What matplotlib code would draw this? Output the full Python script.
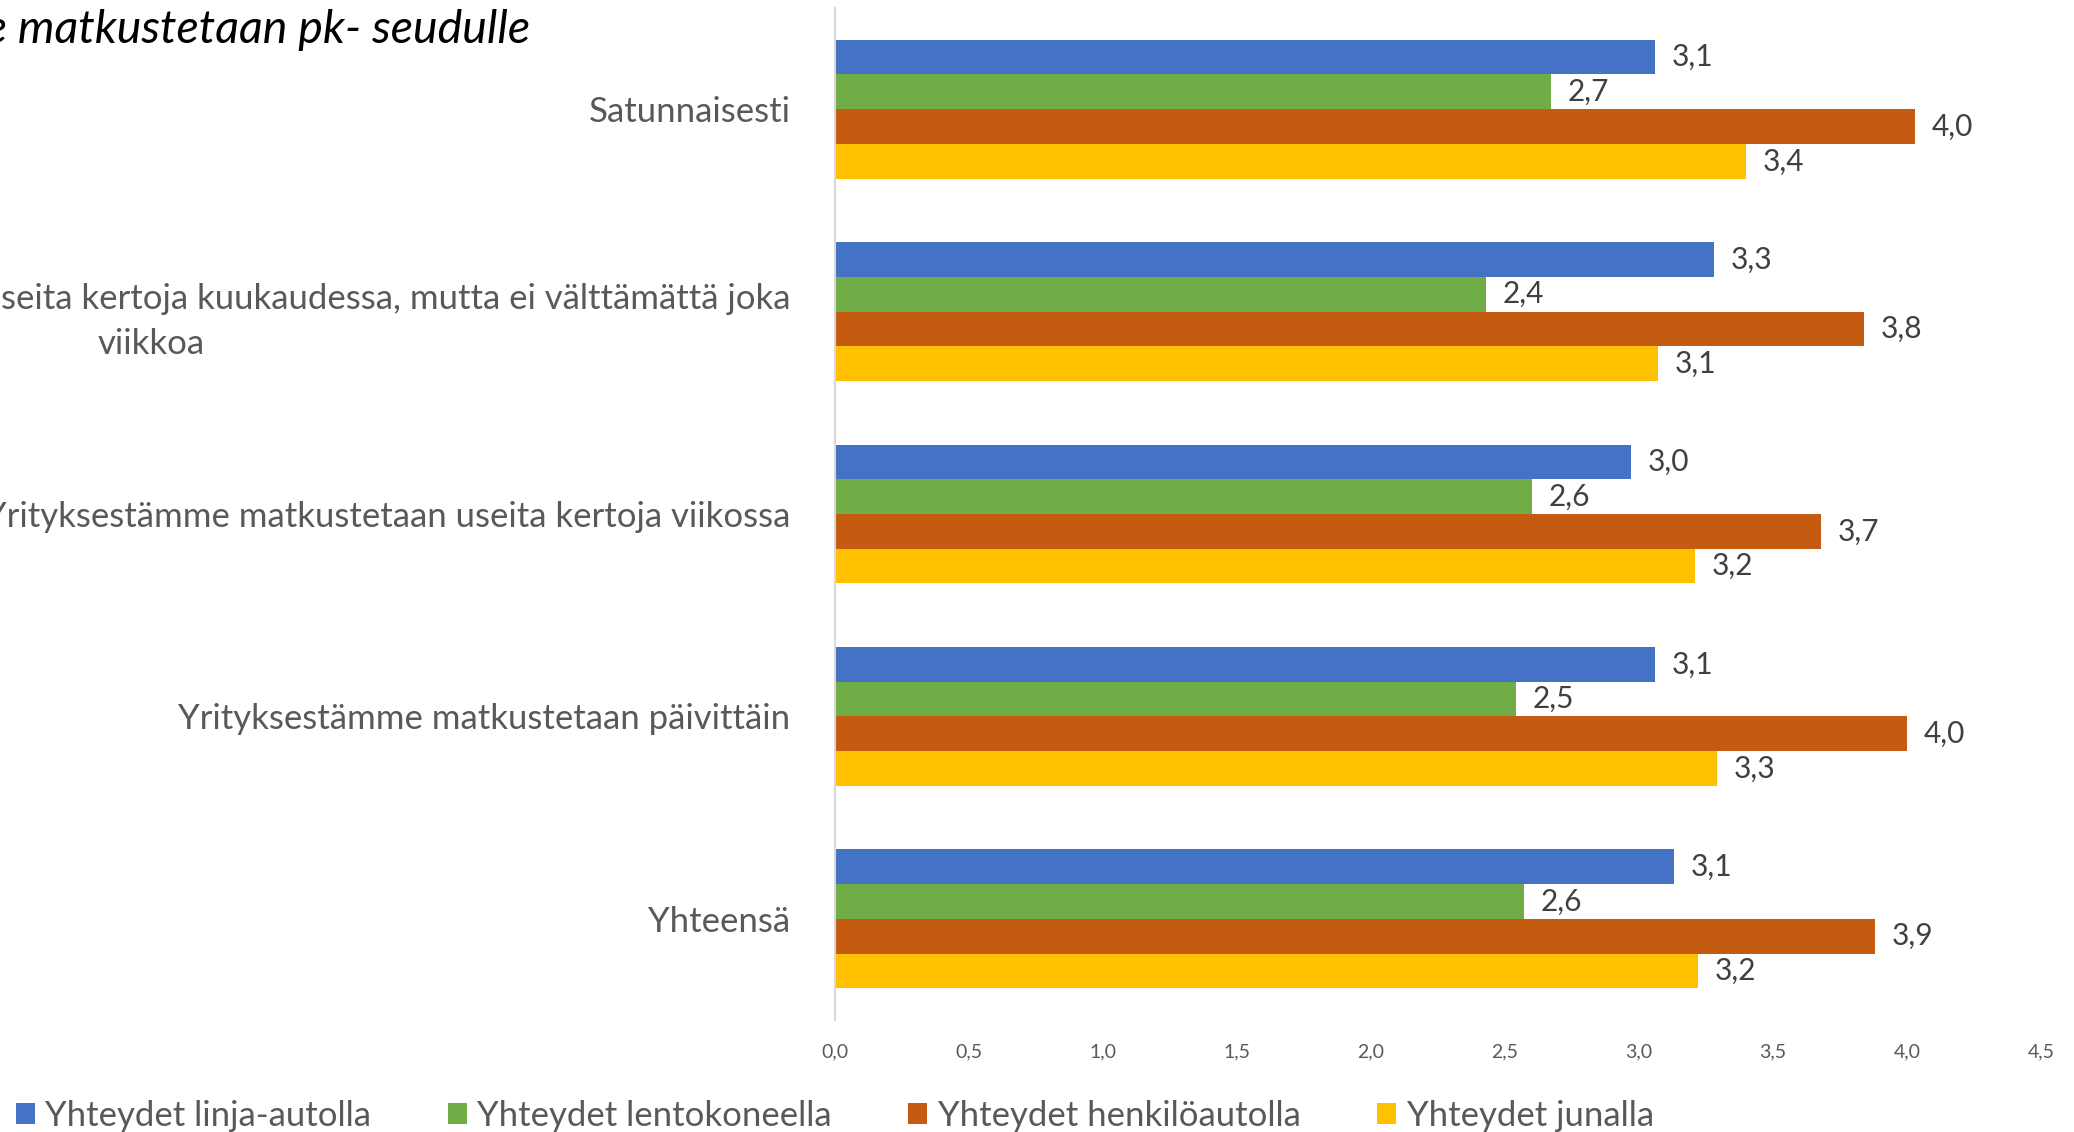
import matplotlib
matplotlib.use("Agg")
import matplotlib.pyplot as plt
from matplotlib import font_manager
import numpy as np

categories = [
    "Satunnaisesti",
    "Yrityksestämme matkustetaan useita kertoja kuukaudessa, mutta ei välttämättä joka\nviikkoa",
    "Yrityksestämme matkustetaan useita kertoja viikossa",
    "Yrityksestämme matkustetaan päivittäin",
    "Yhteensä",
]
series_names = ["Yhteydet linja-autolla", "Yhteydet lentokoneella",
                "Yhteydet henkilöautolla", "Yhteydet junalla"]
linja = [3.06, 3.28, 2.97, 3.06, 3.13]
lento = [2.67, 2.43, 2.60, 2.54, 2.57]
henkilo = [4.03, 3.84, 3.68, 4.00, 3.88]
juna = [3.40, 3.07, 3.21, 3.29, 3.22]
xticks = [0.0, 0.5, 1.0, 1.5, 2.0, 2.5, 3.0, 3.5, 4.0, 4.5]
title = "Kuinka usein yrityksestämme matkustetaan pk- seudulle"

colors = ["#4472C4", "#70AD47", "#C55A11", "#FFC000"]
txt = "#595959"

avail = {f.name for f in font_manager.fontManager.ttflist}
fam = "Liberation Sans Narrow" if "Liberation Sans Narrow" in avail else "Lato"
plt.rcParams["font.family"] = [fam, "DejaVu Sans"]

W, H = 2074, 1132
fig = plt.figure(figsize=(W / 100, H / 100), dpi=100)
ax = fig.add_axes([835 / W, 1 - 1020 / H, (2041 - 835) / W, (1020 - 8) / H])

y = np.arange(len(categories))
h = 0.1716
data = [linja, lento, henkilo, juna]
for i, (vals, c, n) in enumerate(zip(data, colors, series_names)):
    bars = ax.barh(y + (i - 1.5) * h, vals, height=h, color=c, label=n)
    ax.bar_label(bars, labels=[f"{v:.1f}".replace(".", ",") for v in vals],
                 padding=12, fontsize=21.5, color="#404040")

ax.set_ylim(4.5, -0.5)
ax.set_xlim(0, 4.5)
ax.set_xticks(xticks)
ax.set_xticklabels([f"{v:.1f}".replace(".", ",") for v in xticks], fontsize=14, color=txt)
ax.set_yticks(y)
ax.set_yticklabels(categories, fontsize=25, color=txt, multialignment="center",
                   linespacing=1.5)
ax.tick_params(axis="both", length=0)
ax.tick_params(axis="x", pad=17)
ax.tick_params(axis="y", pad=32)
for s in ["top", "right", "bottom"]:
    ax.spines[s].set_visible(False)
ax.spines["left"].set_color("#D9D9D9")
ax.spines["left"].set_linewidth(1.5)

fig.text(530 / W, 1 - 30 / H, title, ha="right", va="center", fontsize=33.5,
         style="italic", color="black")

fig.legend(loc="center left", bbox_to_anchor=(2 / W, 1 - 1116 / H), ncol=4,
           frameon=False, fontsize=25, handlelength=0.55, handleheight=0.55,
           handletextpad=0.3, columnspacing=2.2, labelcolor=txt, borderaxespad=0)

fig.savefig("out.png", dpi=100)
